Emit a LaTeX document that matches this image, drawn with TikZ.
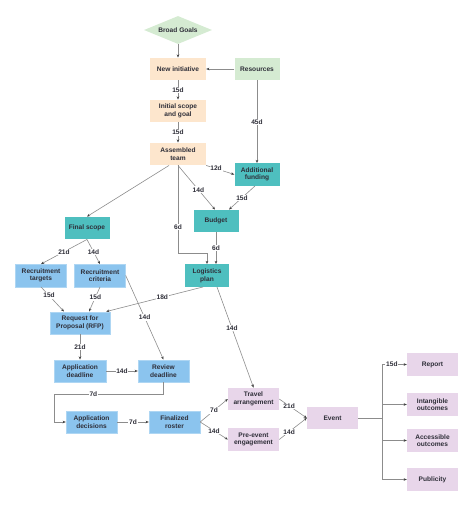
\documentclass[tikz,border=0pt]{standalone}
\usepackage{fontspec}
\setmainfont{Liberation Sans}
\usepackage{xcolor}
\usepackage{tikz}
\usetikzlibrary{arrows.meta,shapes.geometric,positioning}
\definecolor{lgreen}{HTML}{D5EBD2}
\definecolor{peach}{HTML}{FDE6CD}
\definecolor{tealc}{HTML}{4EBFBF}
\definecolor{lblue}{HTML}{8BC4EE}
\definecolor{lilac}{HTML}{E8D6EA}
\definecolor{ink}{HTML}{2E2E38}
\tikzset{every picture/.style={font issue=\fontsize{6.6}{7.6}\bfseries},
         font issue/.style={execute at begin picture={#1\selectfont}}
        }
\tikzstyle{task}=[rectangle,align=center,text=ink,inner sep=1pt,minimum width=51pt,minimum height=22.5pt]
\tikzstyle{goal}=[diamond,aspect=2.4,fill=lgreen,text=ink,inner sep=0pt,minimum width=68pt,minimum height=28pt]
\tikzstyle{peachbox}=[task,fill=peach,minimum width=56pt]
\tikzstyle{greenbox}=[task,fill=lgreen,minimum width=45pt]
\tikzstyle{tealbox}=[task,fill=tealc,minimum width=45pt]
\tikzstyle{bluebox}=[task,fill=lblue,draw=lblue!70!white,line width=0.4pt]
\tikzstyle{lilacbox}=[task,fill=lilac]
\tikzstyle{link}=[draw=black!45,line width=0.6pt,-{Stealth[length=3.2pt,width=2.6pt,color=black!75]}]
\tikzstyle{plain}=[draw=black!45,line width=0.6pt]
\tikzstyle{lbl}=[fill=white,text=ink,inner sep=0.8pt]

\begin{document}
\begin{tikzpicture}[x=1pt,y=-1pt]
	\useasboundingbox (0,0) rectangle (474,507);
	
	\node[goal] (bg) at (178,30) {Broad Goals};
	\node[peachbox] (ni) at (178,69) {New initiative};
	\node[greenbox] (re) at (257,69) {Resources};
	\node[peachbox] (is) at (178,111) {Initial scope\\and goal};
	\node[peachbox] (at) at (178,154) {Assembled\\team};
	\node[tealbox] (af) at (257,174.5) {Additional\\funding};
	\node[tealbox] (bu) at (216,221) {Budget};
	\node[tealbox,minimum width=44pt] (lp) at (207,275.5) {Logistics\\plan};
	\node[tealbox] (fs) at (87,228) {Final scope};
	\node[bluebox] (tg) at (41,275.5) {Recruitment\\targets};
	\node[bluebox] (cr) at (100,275.5) {Recruitment\\criteria};
	\node[bluebox,minimum width=60pt] (rf) at (80,323) {Request for\\Proposal (RFP)};
	\node[bluebox,minimum width=52pt] (adl) at (80,371) {Application\\deadline};
	\node[bluebox] (rv) at (163.5,371) {Review\\deadline};
	\node[bluebox] (adc) at (91.5,422) {Application\\decisions};
	\node[bluebox] (ro) at (174.5,422) {Finalized\\roster};
	\node[lilacbox] (tr) at (253.5,399) {Travel\\arrangement};
	\node[lilacbox] (pe) at (253.5,439.5) {Pre-event\\engagement};
	\node[lilacbox] (ev) at (332.5,418) {Event};
	\node[lilacbox] (rp) at (432.5,364.5) {Report};
	\node[lilacbox] (io) at (432.5,404.5) {Intangible\\outcomes};
	\node[lilacbox] (ao) at (432.5,440.5) {Accessible\\outcomes};
	\node[lilacbox] (pu) at (432.5,479.5) {Publicity};
	
	\coordinate (lc) at (178,253);
	\coordinate (rc) at (54,394);
	\coordinate (ej) at (382,418);
	
	% planning
	\path[link] (bg.south) -- (ni.north);
	\path[link] (re.west) -- (ni.east);
	\path[link] (ni) -- node[lbl] {15d} (is);
	\path[link] (is) -- node[lbl] {15d} (at);
	\path[link] (re) -- node[lbl] {45d} (af);
	\path[link] (at.south east) -- node[lbl,pos=0.35] {12d} (af.west);
	\path[link] (at.south) -- node[lbl,pos=0.55] {14d} ([xshift=-1pt]bu.north);
	\path[link] ([xshift=-2pt]af.south) -- node[lbl] {15d} ([xshift=13pt]bu.north);
	\path[plain] (at.south) -- node[lbl,pos=0.7] {6d} (lc);
	\path[link] (lc) -| (lp.north);
	\path[link] (bu.south) -- node[lbl] {6d} (bu.south |- lp.north);
	\path[link] ([xshift=-9pt]at.south) -- (fs.north);
	
	% recruitment
	\path[link] (fs.south) -- node[lbl] {21d} (tg.north);
	\path[link] (fs.south) -- node[lbl] {14d} (cr.north);
	\path[link] (tg.south) -- node[lbl,pos=0.35] {15d} ([xshift=-16pt]rf.north);
	\path[link] (cr.south) -- node[lbl,pos=0.42] {15d} ([xshift=9pt]rf.north);
	\path[link] ([xshift=-4pt]lp.south) -- node[lbl,pos=0.42] {18d} ([xshift=-4pt]rf.north east);
	\path[link] (cr.east) -- node[lbl] {14d} (rv.north);
	\path[link] (rf) -- node[lbl] {21d} (adl);
	\path[link] (adl) -- node[lbl] {14d} (rv);
	\path[plain] (rv.south) |- node[lbl,pos=0.82] {7d} (rc);
	\path[link] (rc) |- (adc.west);
	\path[link] (adc) -- node[lbl] {7d} (ro);
	
	% event
	\path[link] ([xshift=10pt]lp.south) -- node[lbl,pos=0.41] {14d} (tr.north);
	\path[link] (ro.east) -- node[lbl] {7d} (tr.west);
	\path[link] (ro.east) -- node[lbl] {14d} (pe.west);
	\path[link] (tr.east) -- node[lbl,pos=0.36] {21d} (ev.west);
	\path[link] (pe.east) -- node[lbl,pos=0.36] {14d} (ev.west);
	\path[plain] (ev.east) -- (ej);
	\path[link] (ej) |- node[lbl,pos=0.7] {15d} (rp.west);
	\path[link] (ej) |- (io.west);
	\path[link] (ej) |- (ao.west);
	\path[link] (ej) |- (pu.west);
	
\end{tikzpicture}
\end{document}
